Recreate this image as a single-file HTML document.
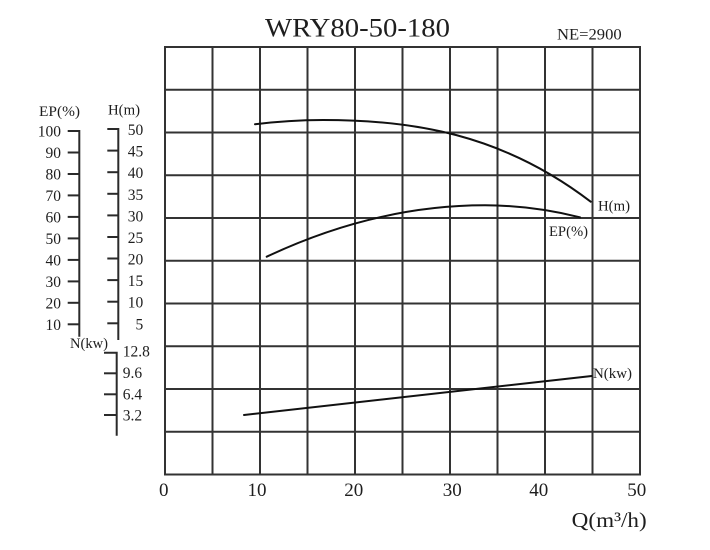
<!DOCTYPE html>
<html>
<head>
<meta charset="utf-8">
<style>
  html,body{margin:0;padding:0;background:#fff;}
  svg{display:block;}
  text{font-family:"Liberation Serif","Times New Roman",serif;fill:#1e1e1e;}
</style>
</head>
<body>
<svg width="710" height="550" viewBox="0 0 710 550" xmlns="http://www.w3.org/2000/svg">
  <rect width="710" height="550" fill="#fff"/>

  <!-- Title -->
  <text x="265" y="36.7" font-size="26.5" textLength="185" lengthAdjust="spacingAndGlyphs">WRY80-50-180</text>
  <text x="557" y="39.3" font-size="16" textLength="64.7" lengthAdjust="spacingAndGlyphs">NE=2900</text>

  <!-- Grid -->
  <g stroke="#333" stroke-width="2" fill="none">
    <line x1="165" y1="47" x2="165" y2="474.5"/>
    <line x1="212.5" y1="47" x2="212.5" y2="474.5"/>
    <line x1="260" y1="47" x2="260" y2="474.5"/>
    <line x1="307.5" y1="47" x2="307.5" y2="474.5"/>
    <line x1="355" y1="47" x2="355" y2="474.5"/>
    <line x1="402.5" y1="47" x2="402.5" y2="474.5"/>
    <line x1="450" y1="47" x2="450" y2="474.5"/>
    <line x1="497.5" y1="47" x2="497.5" y2="474.5"/>
    <line x1="545" y1="47" x2="545" y2="474.5"/>
    <line x1="592.5" y1="47" x2="592.5" y2="474.5"/>
    <line x1="640" y1="47" x2="640" y2="474.5"/>

    <line x1="164" y1="47" x2="641" y2="47"/>
    <line x1="164" y1="89.75" x2="641" y2="89.75"/>
    <line x1="164" y1="132.5" x2="641" y2="132.5"/>
    <line x1="164" y1="175.25" x2="641" y2="175.25"/>
    <line x1="164" y1="218" x2="641" y2="218"/>
    <line x1="164" y1="260.75" x2="641" y2="260.75"/>
    <line x1="164" y1="303.5" x2="641" y2="303.5"/>
    <line x1="164" y1="346.25" x2="641" y2="346.25"/>
    <line x1="164" y1="389" x2="641" y2="389"/>
    <line x1="164" y1="431.75" x2="641" y2="431.75"/>
    <line x1="164" y1="474.5" x2="641" y2="474.5"/>
  </g>

  <!-- Curves -->
  <g stroke="#111" stroke-width="2" fill="none" stroke-linecap="round">
    <path d="M255,124.3 Q289,120 323,120 C412.23,120 501.47,133.47 590.7,201.7"/>
    <path d="M266.7,256.7 Q375.85,205.3 485,205.3 Q532.5,205.3 580,217.3"/>
    <line x1="244" y1="415" x2="591.7" y2="376"/>
  </g>

  <!-- Curve labels -->
  <text x="598" y="210.7" font-size="15" textLength="32" lengthAdjust="spacingAndGlyphs">H(m)</text>
  <text x="549" y="236" font-size="15" textLength="39" lengthAdjust="spacingAndGlyphs">EP(%)</text>
  <text x="593" y="378" font-size="15" textLength="39" lengthAdjust="spacingAndGlyphs">N(kw)</text>

  <!-- Left axes -->
  <text x="39" y="116" font-size="15" textLength="41" lengthAdjust="spacingAndGlyphs">EP(%)</text>
  <text x="108" y="114.5" font-size="15" textLength="32" lengthAdjust="spacingAndGlyphs">H(m)</text>

  <g stroke="#2a2a2a" stroke-width="2" fill="none">
    <!-- EP axis -->
    <polyline points="67.7,131 79.3,131 79.3,336.7"/>
    <line x1="67.7" y1="152.5" x2="79.3" y2="152.5"/>
    <line x1="67.7" y1="174" x2="79.3" y2="174"/>
    <line x1="67.7" y1="195.4" x2="79.3" y2="195.4"/>
    <line x1="67.7" y1="216.9" x2="79.3" y2="216.9"/>
    <line x1="67.7" y1="238.4" x2="79.3" y2="238.4"/>
    <line x1="67.7" y1="259.9" x2="79.3" y2="259.9"/>
    <line x1="67.7" y1="281.4" x2="79.3" y2="281.4"/>
    <line x1="67.7" y1="302.8" x2="79.3" y2="302.8"/>
    <line x1="67.7" y1="324.3" x2="79.3" y2="324.3"/>
    <!-- H axis -->
    <polyline points="107.3,129 118.3,129 118.3,340"/>
    <line x1="107.3" y1="150.6" x2="118.3" y2="150.6"/>
    <line x1="107.3" y1="172.2" x2="118.3" y2="172.2"/>
    <line x1="107.3" y1="193.8" x2="118.3" y2="193.8"/>
    <line x1="107.3" y1="215.4" x2="118.3" y2="215.4"/>
    <line x1="107.3" y1="237" x2="118.3" y2="237"/>
    <line x1="107.3" y1="258.5" x2="118.3" y2="258.5"/>
    <line x1="107.3" y1="280.1" x2="118.3" y2="280.1"/>
    <line x1="107.3" y1="301.7" x2="118.3" y2="301.7"/>
    <line x1="107.3" y1="323.3" x2="118.3" y2="323.3"/>
    <!-- N axis -->
    <polyline points="104,352.7 116.7,352.7 116.7,435.7"/>
    <line x1="104" y1="373.3" x2="116.7" y2="373.3"/>
    <line x1="104" y1="394.3" x2="116.7" y2="394.3"/>
    <line x1="104" y1="415" x2="116.7" y2="415"/>
  </g>

  <g font-size="15.5" text-anchor="end">
    <text x="61" y="136.5">100</text>
    <text x="61" y="158">90</text>
    <text x="61" y="179.5">80</text>
    <text x="61" y="200.9">70</text>
    <text x="61" y="222.4">60</text>
    <text x="61" y="243.9">50</text>
    <text x="61" y="265.4">40</text>
    <text x="61" y="286.9">30</text>
    <text x="61" y="308.3">20</text>
    <text x="61" y="329.8">10</text>

    <text x="143.3" y="135">50</text>
    <text x="143.3" y="156.6">45</text>
    <text x="143.3" y="178.2">40</text>
    <text x="143.3" y="199.8">35</text>
    <text x="143.3" y="221.4">30</text>
    <text x="143.3" y="243">25</text>
    <text x="143.3" y="264.5">20</text>
    <text x="143.3" y="286.1">15</text>
    <text x="143.3" y="307.7">10</text>
    <text x="143.3" y="329.3">5</text>
  </g>

  <text x="70" y="348" font-size="15" textLength="38" lengthAdjust="spacingAndGlyphs">N(kw)</text>
  <g font-size="15.5">
    <text x="122.7" y="356.5">12.8</text>
    <text x="122.7" y="378">9.6</text>
    <text x="122.7" y="399.5">6.4</text>
    <text x="122.7" y="420.5">3.2</text>
  </g>

  <!-- X axis labels -->
  <g font-size="19" text-anchor="middle">
    <text x="163.8" y="496">0</text>
    <text x="257" y="496">10</text>
    <text x="353.8" y="496">20</text>
    <text x="452.2" y="496">30</text>
    <text x="538.8" y="496">40</text>
    <text x="636.7" y="496">50</text>
  </g>
  <text x="571.7" y="527" font-size="21" textLength="75" lengthAdjust="spacingAndGlyphs">Q(m³/h)</text>
</svg>
</body>
</html>
